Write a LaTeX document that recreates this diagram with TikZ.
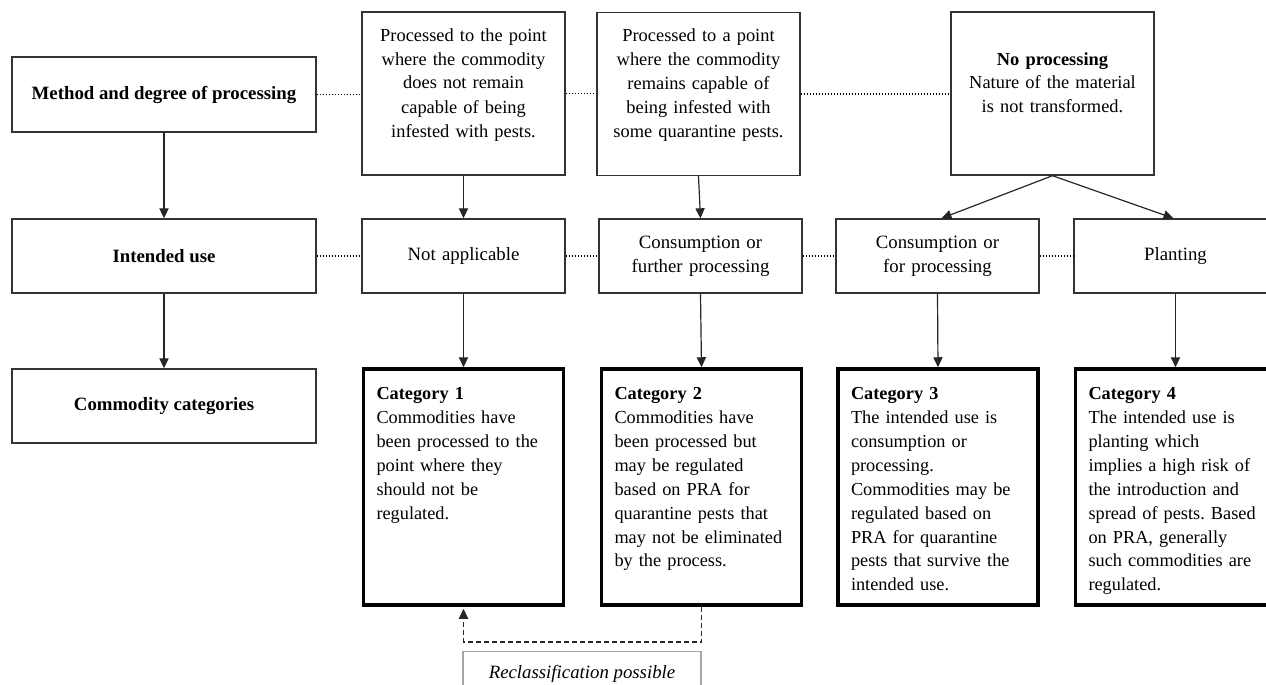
\documentclass[tikz,border=0pt]{standalone}
\usepackage{fontspec}
\setmainfont{Liberation Serif}
\usetikzlibrary{arrows.meta}

\tikzset{
	box/.style={draw=black!80, line width=0.7pt, font=\fontsize{9.4}{12}\selectfont, align=center, inner sep=2pt},
	side/.style={box, minimum width=152pt, minimum height=37.5pt},
	upper/.style={box, font=\fontsize{9.2}{12}\selectfont, minimum width=101.5pt, text width=96pt, inner ysep=0pt, text height=14.5pt, text depth=67pt},
	middle/.style={box, minimum width=101.5pt, minimum height=37pt, text width=96pt},
	category/.style={draw=black, line width=1.75pt, font=\fontsize{9.15}{12}\selectfont, align=left, text width=87pt, inner xsep=6.5pt, inner ysep=8pt, text height=7pt, text depth=95pt},
	arr/.style={draw=black!85, line width=0.6pt, -{Triangle[length=5pt,width=4.6pt]}},
	dots/.style={draw=black, line width=0.9pt, dash pattern=on 0.8pt off 0.7pt},
	reclass/.style={draw=black!85, line width=0.6pt, dash pattern=on 2.5pt off 1.5pt, -{Triangle[length=5pt,width=4.6pt]}}
}

\begin{document}
\frenchspacing
\begin{tikzpicture}[x=0.5pt, y=-0.5pt]
	
	\clip (0,0) rectangle (1266,685);
	
	% left column
	\node[side] (method) at (164,94.5) {\textbf{Method and degree of processing}};
	\node[side, minimum height=37pt] (intended) at (164,256) {\textbf{Intended use}};
	\node[side, minimum height=37pt] (commcat) at (164,406) {\textbf{Commodity categories}};
	
	% degree of processing
	\node[upper] (p1) at (463.5,93.5) {Processed to the point\\where the commodity\\does not remain\\capable of being\\infested with pests.};
	\node[upper] (p2) at (698.5,94) {Processed to a point\\where the commodity\\remains capable of\\being infested with\\some quarantine pests.};
	\node[upper, text height=26.5pt, text depth=55pt] (np) at (1052.5,93.5) {\textbf{No processing}\\Nature of the material\\is not transformed.};
	
	% intended use
	\node[middle] (na) at (463.5,256) {Not applicable};
	\node[middle] (cfurther) at (700.5,256) {Consumption or\\further processing};
	\node[middle] (cfor) at (937.5,256) {Consumption or\\for processing};
	\node[middle] (plant) at (1175.5,256) {Planting};
	
	% categories
	\node[category] (cat1) at (463.5,487) {\textbf{Category 1}\\Commodities have\\been processed to the\\point where they\\should not be\\regulated.};
	\node[category] (cat2) at (701.5,487) {\textbf{Category 2}\\Commodities have\\been processed but\\may be regulated\\based on PRA for\\quarantine pests that\\may not be eliminated\\by the process.};
	\node[category] (cat3) at (938,487) {\textbf{Category 3}\\The intended use is\\consumption or\\processing.\\Commodities may be\\regulated based on\\PRA for quarantine\\pests that survive the\\intended use.};
	\node[category] (cat4) at (1175.5,487) {\textbf{Category 4}\\The intended use is\\planting which\\implies a high risk of\\the introduction and\\spread of pests. Based\\on PRA, generally\\such commodities are\\regulated.};
	
	\node[draw=black!35, line width=0.7pt, font=\fontsize{9.4}{12}\selectfont\itshape, anchor=north, minimum width=119pt, inner ysep=0pt, text height=13.5pt, text depth=12pt] (reclassbox) at (582,651) {Reclassification possible};
	\coordinate (turn) at (582,642);
	
	% dotted links
	\draw[dots] (method.east) -- (method.east -| p1.west);
	\draw[dots] (p1.east) -- (p1.east -| p2.west);
	\draw[dots] (p2.east) -- (p2.east -| np.west);
	\draw[dots] (intended.east) -- (na.west);
	\draw[dots] (na.east) -- (cfurther.west);
	\draw[dots] (cfurther.east) -- (cfor.west);
	\draw[dots] (cfor.east) -- (plant.west);
	
	% arrows
	\draw[arr] (method.south) -- (intended.north);
	\draw[arr] (intended.south) -- (commcat.north);
	\draw[arr] (p1.south) -- (na.north);
	\draw[arr] (p2.south) -- (cfurther.north);
	\draw[arr] (np.south) -- ([xshift=2pt]cfor.north);
	\draw[arr] (np.south) -- ([xshift=-1pt]plant.north);
	\draw[arr] (na.south) -- (cat1.north);
	\draw[arr] (cfurther.south) -- (cat2.north);
	\draw[arr] (cfor.south) -- (cat3.north);
	\draw[arr] (plant.south) -- (cat4.north);
	
	\draw[reclass] (cat2.south) -- (cat2.south |- turn) -- (cat1.south |- turn) -- ([yshift=-1pt]cat1.south);
	
\end{tikzpicture}
\end{document}
